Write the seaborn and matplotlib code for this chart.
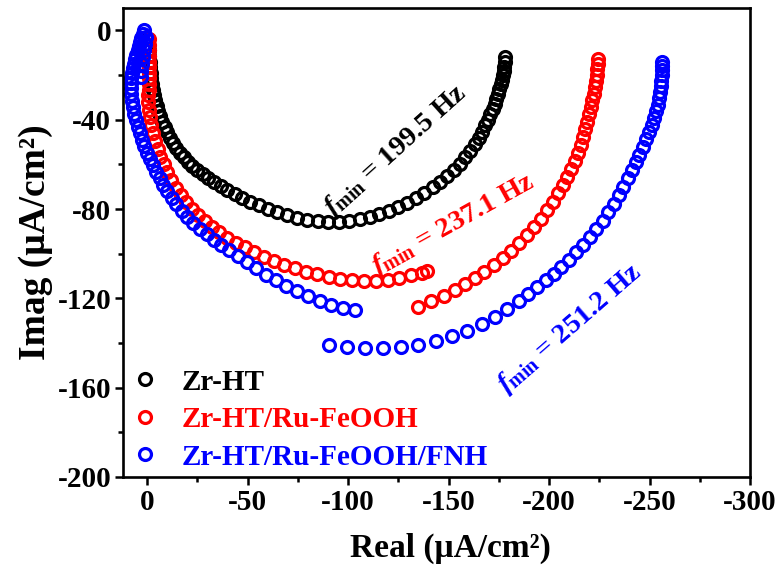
import matplotlib
matplotlib.use("Agg")
import matplotlib.pyplot as plt
import seaborn as sns
import pandas as pd
from matplotlib.ticker import MultipleLocator

# ---------------- data ----------------
series_names = ["Zr-HT", "Zr-HT/Ru-FeOOH", "Zr-HT/Ru-FeOOH/FNH"]
series_colors = ["#000000", "#ff0000", "#0000ff"]

zr_x = [-0.5, -0.7, -0.9, -1.1, -1.3, -1.6, -1.9, -2.2, -2.6, -3.0, -3.5, -4.1, -4.8, -5.6,
        -6.5, -7.5, -8.7, -10.0, -11.4, -12.9, -14.5, -16.3, -18.2, -20.3, -22.6, -25.0,
        -27.6, -30.4, -33.4, -36.6, -40.0, -43.6, -47.4, -51.4, -55.6, -60.0, -64.6, -69.4,
        -74.4, -79.6, -84.9, -90.2, -95.5, -100.7, -105.8, -110.8, -115.6, -120.3, -124.9,
        -129.4, -133.8, -138.0, -142.0, -145.8, -149.4, -152.7, -155.7, -158.4, -160.9,
        -163.1, -165.1, -166.8, -168.3, -169.6, -170.8, -171.9, -172.9, -173.8, -174.6,
        -175.3, -175.9, -176.5, -177.0, -177.4, -177.8, -178.1, -178.3]
zr_y = [-4.0, -6.5, -9.0, -11.5, -14.0, -16.5, -19.0, -21.5, -24.0, -26.5, -29.0, -31.3,
        -33.7, -36.1, -38.5, -40.9, -43.3, -45.7, -48.0, -50.3, -52.5, -54.7, -56.8, -58.9,
        -60.8, -62.6, -64.3, -66.1, -67.9, -69.7, -71.5, -73.3, -75.0, -76.7, -78.3, -79.8,
        -81.3, -82.7, -83.9, -84.8, -85.4, -85.7, -85.6, -85.2, -84.5, -83.5, -82.2, -80.7,
        -79.0, -77.1, -75.0, -72.7, -70.3, -67.8, -65.2, -62.5, -59.7, -56.8, -53.9, -51.0,
        -48.1, -45.3, -42.6, -40.0, -37.5, -35.1, -32.8, -30.6, -28.4, -26.3, -24.2, -22.2,
        -20.2, -18.2, -16.2, -14.1, -12.0]

ru_x = [-0.8, -0.9, -1.0, -1.1, -1.2, -1.2, -1.2, -1.2, -1.1, -0.9, -0.6,
        -0.6, -1.0, -1.5, -2.2, -3.0, -4.0, -5.2, -6.6, -8.2, -10.0, -12.0, -14.3, -16.8,
        -19.5, -22.4, -25.5, -28.8, -32.3, -36.0, -40.0, -44.2, -48.6, -53.2, -58.0, -63.0,
        -68.2, -73.6, -79.1, -84.7, -90.4, -96.2, -102.0, -107.9, -113.8, -119.7, -125.5,
        -131.2, -136.6, -139.5,
        -135.0, -141.5, -147.5, -153.0, -158.0, -163.0, -167.8, -172.5, -177.0, -181.2,
        -185.2, -189.0, -192.6, -196.0, -199.0, -201.8, -204.4, -206.8, -208.9, -210.9,
        -212.7, -214.3, -215.7, -217.0, -218.1, -219.1, -220.0, -220.8, -221.5, -222.1,
        -222.7, -223.2, -223.6, -224.0, -224.3, -224.5]
ru_y = [-4.0, -6.5, -9.0, -11.5, -14.0, -16.5, -19.0, -21.5, -24.0, -26.5, -29.0,
        -32.0, -35.5, -39.0, -42.5, -46.0, -49.5, -53.0, -56.5, -60.0, -63.5, -67.0, -70.5,
        -73.8, -77.0, -80.0, -82.8, -85.5, -88.0, -90.4, -92.8, -95.0, -97.2, -99.3, -101.3,
        -103.2, -105.0, -106.6, -108.0, -109.3, -110.4, -111.2, -111.8, -112.1, -112.1,
        -111.7, -110.9, -109.7, -108.6, -107.6,
        -123.8, -121.4, -118.9, -116.3, -113.6, -110.8, -108.0, -105.0, -101.9, -98.6,
        -95.2, -91.6, -88.0, -84.3, -80.5, -76.8, -73.0, -69.3, -65.6, -62.0, -58.4, -54.8,
        -51.3, -47.8, -44.3, -40.9, -37.6, -34.4, -31.3, -28.3, -25.4, -22.6, -19.9, -17.3,
        -14.9, -13.0]

fnh_x = [0.5, 1.0, 1.5, 2.0, 2.4, 2.8, 3.0,
         1.5, 2.2, 2.9, 3.5, 4.1, 4.7, 5.3, 5.9, 6.5, 7.1, 7.6, 8.0,
         8.2, 8.2, 8.0, 7.6, 7.0, 6.3, 5.5, 4.6, 3.6, 2.5, 1.3, 0.0, -1.4, -2.9, -4.5, -6.2,
         -8.0, -10.0, -12.2, -14.6, -17.2, -20.0, -23.0, -26.2, -29.6, -33.2, -37.0, -41.0,
         -45.2, -49.6, -54.2, -59.0, -64.0, -69.2, -74.6, -80.2, -85.9, -91.7, -97.6, -103.5,
         -90.5, -99.5, -108.5, -117.5, -126.3, -135.0, -143.5, -151.6, -159.3, -166.5,
         -173.2, -179.3, -184.8, -189.7, -194.2, -198.4, -202.3, -206.1, -209.8, -213.4,
         -216.9, -220.3, -223.5, -226.6, -229.5, -232.2, -234.7, -237.0, -239.1, -241.1,
         -243.0, -244.8, -246.5, -248.1, -249.6, -251.0, -252.2, -253.2, -254.0, -254.6,
         -255.1, -255.5, -255.8, -256.0, -256.2, -256.3, -256.4]
fnh_y = [-3.0, -6.0, -9.0, -12.0, -15.0, -18.0, -21.0,
         0.0, -1.5, -3.2, -5.0, -7.0, -9.0, -11.0, -13.0, -15.0, -17.0, -19.0, -21.2,
         -23.5, -26.0, -28.7, -31.5, -34.4, -37.3, -40.2, -43.1, -46.0, -48.9, -51.8, -54.7,
         -57.6, -60.5, -63.4, -66.3, -69.2, -72.1, -75.0, -77.9, -80.7, -83.5, -86.2, -88.8,
         -91.3, -93.7, -96.0, -98.4, -101.0, -103.8, -106.6, -109.4, -112.0, -114.5, -116.9,
         -119.1, -121.1, -122.8, -124.2, -125.4,
         -141.0, -142.0, -142.4, -142.4, -142.0, -141.0, -139.2, -137.0, -134.5, -131.6,
         -128.4, -124.9, -121.4, -118.2, -115.0, -112.0, -109.0, -105.9, -102.7, -99.4,
         -96.0, -92.5, -88.9, -85.2, -81.4, -77.6, -73.8, -70.0, -66.3, -62.7, -59.1, -55.6,
         -52.1, -48.7, -45.4, -42.2, -39.1, -36.1, -33.2, -30.4, -27.7, -25.1, -22.6, -20.2,
         -17.9, -15.8, -14.0]

fmin_labels = ["199.5 Hz", "237.1 Hz", "251.2 Hz"]
fmin_pos_x = [-123.5, -152.5, -210.5]
fmin_pos_y = [-54.0, -87.0, -133.5]
fmin_angle = [42, 29, 41]

x_ticks = [0, -50, -100, -150, -200, -250, -300]
y_ticks = [0, -40, -80, -120, -160, -200]

# ---------------- styling ----------------
sns.set_style("ticks")
plt.rcParams["font.family"] = ["Liberation Serif", "DejaVu Serif"]
plt.rcParams["font.weight"] = "bold"
plt.rcParams["axes.labelweight"] = "bold"
plt.rcParams["axes.unicode_minus"] = False
plt.rcParams["text.color"] = "black"
plt.rcParams["axes.labelcolor"] = "black"
plt.rcParams["xtick.color"] = "black"
plt.rcParams["ytick.color"] = "black"
plt.rcParams["mathtext.fontset"] = "custom"
plt.rcParams["mathtext.rm"] = "Liberation Serif:bold"
plt.rcParams["mathtext.it"] = "Liberation Serif:italic:bold"
plt.rcParams["mathtext.bf"] = "Liberation Serif:bold"

fig = plt.figure(figsize=(7.83, 5.74), dpi=100)
ax = fig.add_axes([0.157, 0.169, 0.801, 0.817])

xs = [zr_x, ru_x, fnh_x]
ys = [zr_y, ru_y, fnh_y]
for name, col, x, y in zip(series_names, series_colors, xs, ys):
    df = pd.DataFrame({"Real": x, "Imag": y})
    sns.lineplot(data=df, x="Real", y="Imag", sort=False, estimator=None, ax=ax,
                 color=col, linestyle="none", marker="o", markersize=8.6,
                 markerfacecolor="none", markeredgecolor=col, markeredgewidth=2.3,
                 label=name)

for lab, px, py, ang, col in zip(fmin_labels, fmin_pos_x, fmin_pos_y, fmin_angle, series_colors):
    ax.text(px, py, r"$f_{\mathbf{min}}$ = " + lab, color=col, fontsize=20.5,
            fontweight="bold", rotation=ang, rotation_mode="anchor",
            ha="center", va="center")

ax.set_xlim(12, -300)
ax.set_ylim(-200, 10)
ax.set_xticks(x_ticks)
ax.set_yticks(y_ticks)
ax.xaxis.set_minor_locator(MultipleLocator(25))
ax.yaxis.set_minor_locator(MultipleLocator(20))
ax.tick_params(axis="both", which="major", direction="out", length=5.5, width=1.8,
               labelsize=21, colors="black", pad=3)
ax.tick_params(axis="both", which="minor", direction="out", length=3.5, width=1.8)
for s in ax.spines.values():
    s.set_linewidth(1.9)
    s.set_color("black")
    s.set_visible(True)

ax.set_xlabel("Real (\u03bcA/cm\u00b2)", fontsize=24, fontweight="bold", labelpad=12)
ax.set_ylabel("Imag (\u03bcA/cm\u00b2)", fontsize=27, fontweight="bold", labelpad=3)
ax.xaxis.label.set_x(0.522)

leg = ax.legend(loc="lower left", bbox_to_anchor=(-0.02, -0.03), frameon=False,
                fontsize=21, handlelength=1.0, handletextpad=0.75, labelspacing=0.36,
                borderaxespad=0.3)
for t, c in zip(leg.get_texts(), series_colors):
    t.set_color(c)
    t.set_fontweight("bold")

fig.savefig("out.png", dpi=100)
